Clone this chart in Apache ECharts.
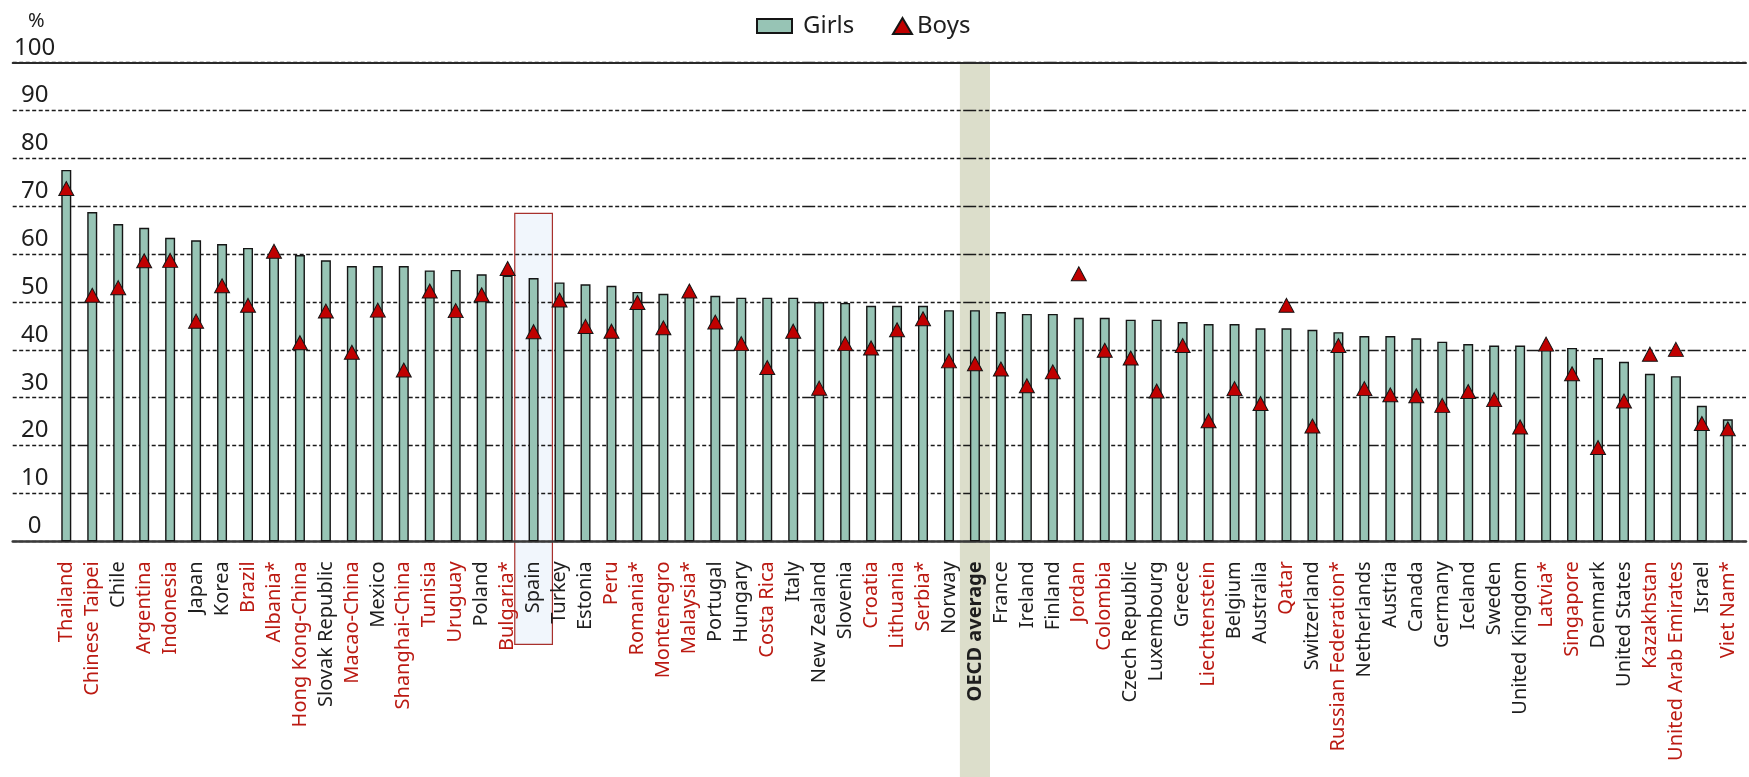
<!DOCTYPE html>
<html>
<head>
<meta charset="utf-8">
<script src="https://cdn.jsdelivr.net/npm/echarts@6/dist/echarts.min.js"></script>
<style>
  html, body { margin: 0; padding: 0; background: #ffffff; }
  #chart { width: 1749px; height: 777px; }
</style>
</head>
<body>
<div id="chart"></div>
<script>
// Countries and economies, in the order shown on the axis
const countries = [
  'Thailand', 'Chinese Taipei', 'Chile', 'Argentina', 'Indonesia', 'Japan', 'Korea', 'Brazil',
  'Albania*', 'Hong Kong-China', 'Slovak Republic', 'Macao-China', 'Mexico', 'Shanghai-China',
  'Tunisia', 'Uruguay', 'Poland', 'Bulgaria*', 'Spain', 'Turkey', 'Estonia', 'Peru', 'Romania*',
  'Montenegro', 'Malaysia*', 'Portugal', 'Hungary', 'Costa Rica', 'Italy', 'New Zealand',
  'Slovenia', 'Croatia', 'Lithuania', 'Serbia*', 'Norway', 'OECD average', 'France', 'Ireland',
  'Finland', 'Jordan', 'Colombia', 'Czech Republic', 'Luxembourg', 'Greece', 'Liechtenstein',
  'Belgium', 'Australia', 'Qatar', 'Switzerland', 'Russian Federation*', 'Netherlands', 'Austria',
  'Canada', 'Germany', 'Iceland', 'Sweden', 'United Kingdom', 'Latvia*', 'Singapore', 'Denmark',
  'United States', 'Kazakhstan', 'United Arab Emirates', 'Israel', 'Viet Nam*'
];

// Percentage of girls
const girls = [
  77.6, 68.8, 66.3, 65.5, 63.4, 62.9, 62.1, 61.3,
  60.0, 59.8, 58.7, 57.5, 57.5, 57.5,
  56.6, 56.7, 55.8, 55.5, 55.0, 54.1, 53.7, 53.4, 52.1,
  51.7, 51.3, 51.3, 50.9, 50.9, 50.9, 50.0,
  49.8, 49.2, 49.2, 49.2, 48.3, 48.3, 47.9, 47.5,
  47.5, 46.7, 46.7, 46.3, 46.3, 45.8, 45.4,
  45.4, 44.5, 44.5, 44.2, 43.7, 42.9, 42.9,
  42.4, 41.7, 41.2, 40.9, 40.9, 40.5, 40.4, 38.3,
  37.5, 35.0, 34.5, 28.3, 25.5
];

// Percentage of boys
const boys = [
  73.7, 51.4, 53.0, 58.6, 58.7, 46.0, 53.4, 49.3,
  60.6, 41.5, 48.1, 39.5, 48.3, 35.8,
  52.3, 48.2, 51.5, 57.0, 43.8, 50.4, 44.9, 43.9, 49.9,
  44.6, 52.3, 45.8, 41.3, 36.3, 43.9, 32.0,
  41.3, 40.4, 44.2, 46.5, 37.7, 37.1, 36.0, 32.5,
  35.4, 55.9, 39.9, 38.3, 31.4, 40.9, 25.2,
  31.9, 28.8, 49.3, 24.1, 40.9, 31.9, 30.6,
  30.4, 28.4, 31.3, 29.6, 23.9, 41.2, 35.0, 19.6,
  29.3, 39.1, 40.1, 24.6, 23.5
];

// Partner countries and economies (labelled in red)
const partners = [
  'Thailand', 'Chinese Taipei', 'Argentina', 'Indonesia', 'Brazil', 'Albania*', 'Hong Kong-China',
  'Macao-China', 'Shanghai-China', 'Tunisia', 'Uruguay', 'Bulgaria*', 'Peru', 'Romania*',
  'Montenegro', 'Malaysia*', 'Costa Rica', 'Croatia', 'Lithuania', 'Serbia*', 'Jordan', 'Colombia',
  'Liechtenstein', 'Qatar', 'Russian Federation*', 'Latvia*', 'Singapore', 'Kazakhstan',
  'United Arab Emirates', 'Viet Nam*'
];

const averageLabel = 'OECD average';
const highlighted = 'Spain';

// Value axis
const yMin = 0;
const yMax = 100;
const yStep = 10;

const FONT = '"Noto Sans", "Open Sans", sans-serif';
const RED = '#bb1a12';
const INK = '#1e1e1e';

const chart = echarts.init(document.getElementById('chart'), null, { renderer: 'canvas' });

const labelRich = {
  avg: { color: INK, fontWeight: 'bold', fontSize: 20, fontFamily: FONT },
  p: { color: RED, fontSize: 20, fontFamily: FONT },
  c: { color: INK, fontSize: 20, fontFamily: FONT }
};

const option = {
  animation: false,
  backgroundColor: '#ffffff',
  title: {
    text: '%', left: 23, top: 6,
    textStyle: { fontSize: 20, fontWeight: 'normal', color: INK, fontFamily: FONT }
  },
  legend: [
    {
      data: [{ name: 'Girls', icon: 'rect' }], left: 751, top: 9,
      itemWidth: 35, itemHeight: 14,
      textStyle: { fontSize: 24, color: INK, fontFamily: FONT, padding: [0, 0, 0, 6] }
    },
    {
      data: [{ name: 'Boys', icon: 'triangle' }], left: 887, top: 9,
      itemWidth: 19, itemHeight: 16,
      textStyle: { fontSize: 24, color: INK, fontFamily: FONT }
    }
  ],
  grid: [
    // bars and markers
    { left: 53.3, right: 8.2, top: 62.7, bottom: 235.7, containLabel: false },
    // full-width frame carrying the value scale and its rules
    { left: 12.7, right: 3, top: 62.7, bottom: 235.7, containLabel: false }
  ],
  xAxis: [
    {
      type: 'category', gridIndex: 0, data: countries,
      axisLine: { show: false }, axisTick: { show: false },
      axisLabel: {
        interval: 0, rotate: 90, margin: 20,
        formatter: (v) => v === averageLabel ? `{avg|${v}}` : (partners.includes(v) ? `{p|${v}}` : `{c|${v}}`),
        rich: labelRich
      }
    },
    {
      type: 'value', gridIndex: 1, min: 0, max: 1, position: 'bottom',
      axisLine: { show: true, lineStyle: { color: '#3a3a3a', width: 2.5 } },
      axisTick: { show: false }, axisLabel: { show: false }, splitLine: { show: false }
    },
    {
      type: 'value', gridIndex: 1, min: 0, max: 1, position: 'top',
      axisLine: { show: true, lineStyle: { color: '#2a2a2a', width: 2 } },
      axisTick: { show: false }, axisLabel: { show: false }, splitLine: { show: false }
    }
  ],
  yAxis: [
    {
      type: 'value', gridIndex: 0, min: yMin, max: yMax, interval: yStep, show: false
    },
    {
      type: 'value', gridIndex: 1, min: yMin, max: yMax, interval: yStep,
      axisLine: { show: false }, axisTick: { show: false },
      axisLabel: {
        inside: true, margin: 22, align: 'center', verticalAlign: 'bottom',
        fontSize: 24, color: INK, fontFamily: FONT, lineHeight: 24, padding: [0, 0, 3, 0]
      },
      splitLine: {
        show: true,
        lineStyle: {
          color: '#1a1a1a', width: 1.3,
          type: [4, 2.5, 4, 2.5, 4, 2.5, 4, 2.5, 4, 2.5, 4, 2.5, 4, 2.5, 4, 2.5, 4, 2.5, 4, 2.5, 13, 2.5]
        }
      }
    }
  ],
  series: [
    {
      // shaded column behind the OECD average
      type: 'custom', name: 'avgBand', xAxisIndex: 0, yAxisIndex: 0, z: -1, silent: true,
      data: [[averageLabel, yMax]],
      renderItem: (params, api) => {
        const top = api.coord([api.value(0), api.value(1)]);
        const band = api.size([1, 0])[0];
        const w = band * 1.16;
        return {
          type: 'rect',
          shape: { x: top[0] - w / 2, y: top[1], width: w, height: api.getHeight() - top[1] },
          style: { fill: '#dcdecb' }
        };
      }
    },
    {
      // framed column for the highlighted country
      type: 'custom', name: 'highlightBox', xAxisIndex: 0, yAxisIndex: 0, z: -1, silent: true,
      data: [[highlighted, 68.5]],
      renderItem: (params, api) => {
        const top = api.coord([api.value(0), api.value(1)]);
        const base = api.coord([api.value(0), 0]);
        const band = api.size([1, 0])[0];
        const w = band * 1.45;
        return {
          type: 'rect',
          shape: { x: top[0] - w / 2, y: top[1], width: w, height: base[1] + 103 - top[1] },
          style: { fill: '#f1f6fc', stroke: '#a8302c', lineWidth: 1.2 }
        };
      }
    },
    {
      name: 'Girls', type: 'bar', xAxisIndex: 0, yAxisIndex: 0, z: 3,
      data: girls, barWidth: 10,
      itemStyle: { color: '#97c4b5', borderColor: '#151515', borderWidth: 1.4 }
    },
    {
      name: 'Boys', type: 'scatter', xAxisIndex: 0, yAxisIndex: 0, z: 4,
      data: boys, symbol: 'triangle', symbolSize: [15, 14],
      itemStyle: { color: '#c00000', borderColor: '#151515', borderWidth: 1, opacity: 1 }
    }
  ]
};

chart.setOption(option);
</script>
</body>
</html>
